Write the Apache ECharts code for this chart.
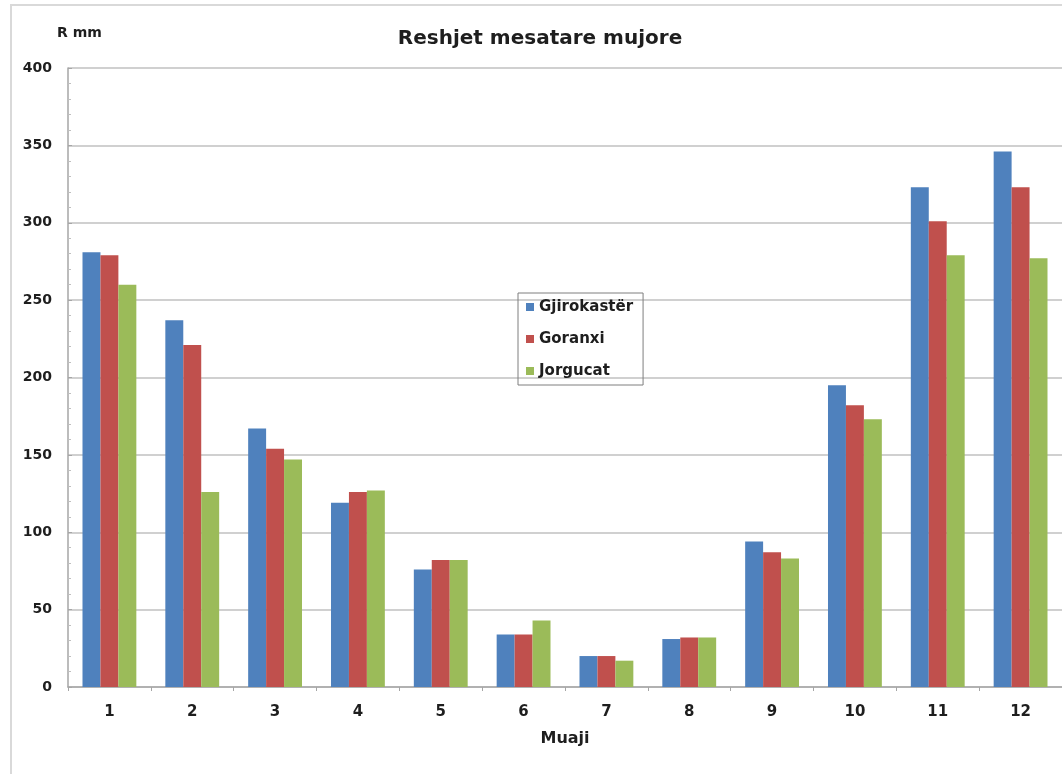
<!DOCTYPE html>
<html>
<head>
<meta charset="utf-8">
<script src="https://cdn.jsdelivr.net/npm/echarts@6/dist/echarts.min.js"></script>
<style>
html,body{margin:0;padding:0;background:#fff;}
#chart{width:1062px;height:774px;}
</style>
</head>
<body>
<div id="chart"></div>
<script>
const months = ['1','2','3','4','5','6','7','8','9','10','11','12'];
const gjirokaster = [281, 237, 167, 119, 76, 34, 20, 31, 94, 195, 323, 346];
const goranxi = [279, 221, 154, 126, 82, 34, 20, 32, 87, 182, 301, 323];
const jorgucat = [260, 126, 147, 127, 82, 43, 17, 32, 83, 173, 279, 277];
const seriesNames = ['Gjirokastër', 'Goranxi', 'Jorgucat'];
const colors = ['#4F81BD', '#C0504D', '#9BBB59'];

const chart = echarts.init(document.getElementById('chart'));
const font = '"DejaVu Sans", Verdana, sans-serif';
const txt = '#1e1e1e';
chart.setOption({
  animation: false,
  backgroundColor: '#fff',
  color: colors,
  title: {
    text: 'Reshjet mesatare mujore',
    left: 535, top: 24, textAlign: 'center',
    textStyle: {fontFamily: font, fontSize: 20, fontWeight: 'bold', color: txt}
  },
  graphic: [
    {type: 'rect', shape: {x: 11, y: 5, width: 1200, height: 900},
     style: {fill: 'none', stroke: '#d9d9d9', lineWidth: 2}, z: -1},
    {type: 'text', left: 57, top: 26,
     style: {text: 'R mm', font: 'bold 14px "DejaVu Sans", Verdana, sans-serif', fill: txt}}
  ],
  legend: {
    orient: 'vertical',
    left: 518, top: 293,
    padding: [5, 10, 5, 8],
    itemGap: 14,
    itemWidth: 8, itemHeight: 8,
    icon: 'rect',
    borderColor: '#7f7f7f', borderWidth: 1,
    textStyle: {fontFamily: font, fontSize: 15, fontWeight: 'bold', color: txt, lineHeight: 18},
    data: seriesNames
  },
  grid: {left: 68, top: 68, width: 1001, bottom: 87, containLabel: false},
  xAxis: {
    type: 'category',
    data: months,
    name: 'Muaji',
    nameLocation: 'middle',
    nameGap: 44,
    nameTextStyle: {fontFamily: font, fontSize: 16, fontWeight: 'bold', color: txt},
    axisLine: {lineStyle: {color: '#a6a6a6', width: 1.5}},
    axisTick: {show: true, alignWithLabel: false, length: 4, lineStyle: {color: '#a6a6a6'}},
    axisLabel: {fontFamily: font, fontSize: 15, fontWeight: 'bold', color: txt, margin: 18}
  },
  yAxis: {
    type: 'value',
    min: 0, max: 400, interval: 50,
    axisLine: {show: true, lineStyle: {color: '#a6a6a6', width: 1.5}},
    axisTick: {show: true, inside: true, length: 4, lineStyle: {color: '#a6a6a6'}},
    minorTick: {show: true, splitNumber: 5, length: 3, lineStyle: {color: '#bfbfbf'}},
    splitLine: {show: true, lineStyle: {color: '#c0c0c0', width: 1.5}},
    axisLabel: {fontFamily: font, fontSize: 14, fontWeight: 'bold', color: txt, margin: 16}
  },
  series: [
    {name: seriesNames[0], type: 'bar', data: gjirokaster, barGap: '0%', barCategoryGap: '35%'},
    {name: seriesNames[1], type: 'bar', data: goranxi, barGap: '0%', barCategoryGap: '35%'},
    {name: seriesNames[2], type: 'bar', data: jorgucat, barGap: '0%', barCategoryGap: '35%'}
  ]
});
</script>
</body>
</html>
